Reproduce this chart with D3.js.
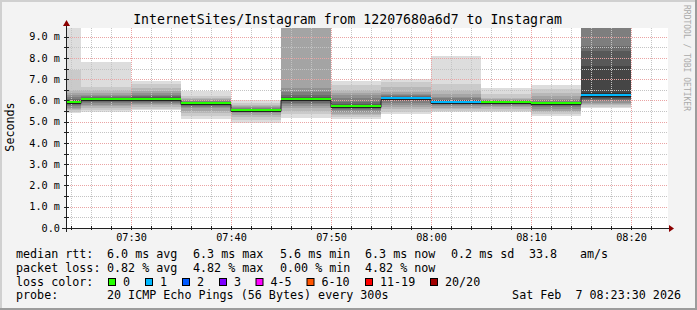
<!DOCTYPE html>
<html>
<head>
<meta charset="utf-8">
<script src="https://cdn.jsdelivr.net/npm/d3@7"></script>
<style>
    html, body { margin: 0; padding: 0; background: #f3f3f3; }
    svg { display: block; }
    text { font-family: "DejaVu Sans Mono", monospace; fill: #000; }
</style>
</head>
<body>
<div id="chart"></div>
<script>
(function () {
    "use strict";

    // 5 minute steps (end time of each step)
    const stepEnds = ["07:25", "07:30", "07:35", "07:40", "07:45", "07:50",
        "07:55", "08:00", "08:05", "08:10", "08:15", "08:20"];
    const medians = [5.95, 6.08, 6.08, 5.88, 5.57, 6.08, 5.75, 6.13, 5.94, 5.94, 5.89, 6.27];
    const lostPings = [0, 0, 0, 0, 0, 0, 0, 1, 1, 0, 0, 1];

    // sorted ping times (ms) of the 20 pings of each step
    const pings = [
        [5.40, 5.48, 5.55, 5.60, 5.66, 5.72, 5.78, 5.84, 5.90, 5.94, 5.96, 5.99, 6.03, 6.08, 6.15, 6.25, 6.35, 6.49, 7.43, 9.60],
        [5.44, 5.55, 5.63, 5.73, 5.80, 5.87, 5.93, 5.98, 6.03, 6.07, 6.09, 6.10, 6.13, 6.16, 6.20, 6.25, 6.34, 6.49, 6.65, 7.82],
        [5.55, 5.62, 5.70, 5.78, 5.85, 5.90, 5.95, 5.99, 6.03, 6.07, 6.09, 6.11, 6.15, 6.20, 6.27, 6.35, 6.45, 6.57, 6.76, 6.91],
        [5.11, 5.25, 5.40, 5.52, 5.63, 5.70, 5.75, 5.80, 5.84, 5.87, 5.89, 5.90, 5.92, 5.94, 5.97, 6.00, 6.05, 6.12, 6.21, 6.46],
        [4.95, 5.08, 5.22, 5.32, 5.40, 5.46, 5.50, 5.53, 5.55, 5.565, 5.57, 5.575, 5.58, 5.60, 5.63, 5.67, 5.72, 5.78, 5.87, 6.02],
        [5.16, 5.35, 5.50, 5.65, 5.75, 5.83, 5.90, 5.96, 6.02, 6.07, 6.09, 6.12, 6.18, 6.28, 6.40, 6.57, 9.60, 9.60, 9.60, 9.60],
        [5.13, 5.22, 5.30, 5.38, 5.46, 5.53, 5.60, 5.66, 5.70, 5.74, 5.76, 5.79, 5.85, 5.95, 6.10, 6.26, 6.35, 6.49, 6.73, 6.91],
        [5.35, 5.47, 5.58, 5.68, 5.80, 5.90, 5.98, 6.03, 6.08, 6.11, 6.13, 6.15, 6.17, 6.20, 6.25, 6.32, 6.41, 6.65, 6.85, 7.01],
        [5.44, 5.52, 5.59, 5.66, 5.72, 5.77, 5.82, 5.86, 5.90, 5.93, 5.95, 5.97, 6.00, 6.04, 6.10, 6.18, 6.30, 6.49, 6.76, 8.09],
        [5.44, 5.52, 5.60, 5.67, 5.74, 5.80, 5.85, 5.89, 5.92, 5.935, 5.945, 5.95, 5.96, 5.98, 6.00, 6.02, 6.06, 6.13, 6.30, 6.57],
        [5.28, 5.36, 5.44, 5.52, 5.60, 5.68, 5.76, 5.82, 5.86, 5.88, 5.89, 5.90, 5.92, 5.95, 6.00, 6.07, 6.20, 6.34, 6.54, 6.73],
        [5.63, 5.70, 5.77, 5.84, 5.90, 5.96, 6.02, 6.08, 6.14, 6.22, 6.34, 7.63, 8.33, 8.57, 9.60, 9.60, 9.60, 9.60, 9.60, 9.60]
    ];

    const yTicks = [0, 1, 2, 3, 4, 5, 6, 7, 8, 9];
    const xTickLabels = ["07:30", "07:40", "07:50", "08:00", "08:10", "08:20"];
    const lossLabels = ["0", "1", "2", "3", "4-5", "6-10", "11-19", "20/20"];
    const lossLimits = [0, 1, 2, 3, 5, 10, 19, 20];
    const lossPalette = ["#26ff00", "#00b8ff", "#0059ff", "#7e00ff", "#ff00ff", "#ff5500", "#ff0000", "#a10000"];

    const medianStats = ["6.0 ms avg", "6.3 ms max", "5.6 ms min", "6.3 ms now", "0.2 ms sd", "33.8", "am/s"];
    const lossStats = ["0.82 % avg", "4.82 % max", "0.00 % min", "4.82 % now"];

    const width = 697;
    const height = 310;
    const parseHM = d3.timeParse("%H:%M:%S");
    const tStart = parseHM("07:23:30");
    const tEnd = parseHM("08:23:30");
    const stepMs = 5 * 60 * 1000;

    const x = d3.scaleTime().domain([tStart, tEnd]).range([66, 666]);
    const y = d3.scaleLinear().domain([0, 9.41]).range([228, 28]);
    const px = (v) => Math.round(v) + 0.5;

    const svg = d3.select("#chart").append("svg")
        .attr("width", width)
        .attr("height", height);

    // frame
    svg.append("rect").attr("width", width).attr("height", height).attr("fill", "#f3f3f3");
    svg.append("path").attr("d", `M0,${height} V0 H${width}`).attr("fill", "none")
        .attr("stroke", "#d0d0d0").attr("stroke-width", 4);
    svg.append("path").attr("d", `M0,${height} H${width} V0`).attr("fill", "none")
        .attr("stroke", "#9c9c9c").attr("stroke-width", 4);

    // canvas
    svg.append("rect").attr("x", 66).attr("y", 28).attr("width", 602).attr("height", 200).attr("fill", "#fff");

    svg.append("clipPath").attr("id", "plot-clip")
        .append("rect").attr("x", 66).attr("y", 28).attr("width", 602).attr("height", 200);

    const steps = stepEnds.map((s, i) => {
        const end = parseHM(s + ":00");
        return {
            start: new Date(Math.max(end - stepMs, tStart)),
            end: end,
            median: medians[i],
            lost: lostPings[i],
            pings: pings[i]
        };
    });

    // smoke
    const smoke = svg.append("g").attr("clip-path", "url(#plot-clip)");
    const half = 10;
    d3.range(half).forEach((j) => {
        const g = Math.floor(190 / half * (half - (j + 1))) + 50;
        const col = d3.rgb(g, g, g).formatHex();
        smoke.selectAll(null)
            .data(steps)
            .join("rect")
            .attr("x", (d) => Math.round(x(d.start)))
            .attr("width", (d) => Math.round(x(d.end)) - Math.round(x(d.start)))
            .attr("y", (d) => Math.round(y(d.pings[19 - j])))
            .attr("height", (d) => Math.round(y(d.pings[j])) - Math.round(y(d.pings[19 - j])))
            .attr("fill", col);
    });

    // grid
    const grid = svg.append("g").attr("fill", "none").attr("stroke-dasharray", "1,1");
    const minorY = d3.range(0.5, 9.41, 0.5).filter((v) => Math.abs(v - Math.round(v)) > 0.01);
    grid.selectAll(".hmin").data(minorY).join("line")
        .attr("x1", 66).attr("x2", 668)
        .attr("y1", (d) => px(y(d))).attr("y2", (d) => px(y(d)))
        .attr("stroke", "#c4c4c4");
    const minorX = d3.timeMinute.every(2).range(tStart, tEnd).filter((d) => d.getMinutes() % 10 !== 0);
    grid.selectAll(".vmin").data(minorX).join("line")
        .attr("y1", 28).attr("y2", 228)
        .attr("x1", (d) => px(x(d))).attr("x2", (d) => px(x(d)))
        .attr("stroke", "#c4c4c4");
    grid.selectAll(".hmaj").data(yTicks.slice(1)).join("line")
        .attr("x1", 66).attr("x2", 668)
        .attr("y1", (d) => px(y(d))).attr("y2", (d) => px(y(d)))
        .attr("stroke", "#eaa4a4");
    const majorX = xTickLabels.map((s) => parseHM(s + ":00"));
    grid.selectAll(".vmaj").data(majorX).join("line")
        .attr("y1", 28).attr("y2", 228)
        .attr("x1", (d) => px(x(d))).attr("x2", (d) => px(x(d)))
        .attr("stroke", "#eaa4a4");

    // median: dark step line, then loss coloured segments
    const medPts = [];
    steps.forEach((d) => {
        medPts.push([Math.round(x(d.start)), px(y(d.median)) + 1]);
        medPts.push([Math.round(x(d.end)), px(y(d.median)) + 1]);
    });
    svg.append("path")
        .attr("d", d3.line()(medPts))
        .attr("fill", "none")
        .attr("stroke", "#202020")
        .attr("stroke-width", 1);

    const lossColor = (n) => lossPalette[lossLimits.findIndex((l) => n <= l)];
    svg.append("g").selectAll("line").data(steps).join("line")
        .attr("x1", (d) => Math.round(x(d.start)))
        .attr("x2", (d) => Math.round(x(d.end)))
        .attr("y1", (d) => Math.round(y(d.median)))
        .attr("y2", (d) => Math.round(y(d.median)))
        .attr("stroke", (d) => lossColor(d.lost))
        .attr("stroke-width", 2);

    // axes
    const axes = svg.append("g").attr("stroke", "#202020").attr("fill", "none");
    axes.append("line").attr("x1", 62).attr("x2", 671).attr("y1", 228.5).attr("y2", 228.5);
    axes.append("line").attr("x1", 66.5).attr("x2", 66.5).attr("y1", 232).attr("y2", 24);
    axes.selectAll(".yt").data(minorY.concat(yTicks.slice(1))).join("line")
        .attr("x1", 64).attr("x2", 69)
        .attr("y1", (d) => px(y(d))).attr("y2", (d) => px(y(d)));
    axes.selectAll(".xt").data(minorX.concat(majorX)).join("line")
        .attr("y1", 226).attr("y2", 230)
        .attr("x1", (d) => px(x(d))).attr("x2", (d) => px(x(d)));
    svg.append("path").attr("d", "M669,225 L674,228.5 L669,232 Z").attr("fill", "#8b0000");
    svg.append("path").attr("d", "M63,26 L66.5,20 L70,26 Z").attr("fill", "#8b0000");

    // tick labels
    svg.append("g").selectAll("text").data(yTicks).join("text")
        .attr("x", 60)
        .attr("y", (d) => y(d) + 3.7)
        .attr("text-anchor", "end")
        .attr("font-size", "10.2px")
        .text((d) => d === 0 ? "0.0" : d3.format(".1f")(d) + " m");
    svg.append("g").selectAll("text").data(majorX).join("text")
        .attr("x", (d) => px(x(d)))
        .attr("y", 241)
        .attr("text-anchor", "middle")
        .attr("font-size", "10.2px")
        .text(d3.timeFormat("%H:%M"));

    svg.append("text")
        .attr("transform", "translate(14,127) rotate(-90)")
        .attr("text-anchor", "middle")
        .attr("font-size", "11.7px")
        .text("Seconds");

    svg.append("text")
        .attr("x", 347.5).attr("y", 23.5)
        .attr("text-anchor", "middle")
        .attr("font-size", "13.2px")
        .text("InternetSites/Instagram from 12207680a6d7 to Instagram");

    svg.append("text")
        .attr("transform", "translate(684,5) rotate(90)")
        .attr("font-size", "8px")
        .style("fill", "#aaaaaa")
        .text("RRDTOOL / TOBI OETIKER");

    // legend
    const leg = svg.append("g").attr("font-size", "11.7px");
    const rows = [258.3, 272, 285.7, 299.3];
    const statX = [107, 193, 280, 365, 451, 529, 580];
    leg.append("text").attr("x", 16).attr("y", rows[0]).text("median rtt:");
    leg.selectAll(".ms").data(medianStats).join("text")
        .attr("x", (d, i) => statX[i]).attr("y", rows[0]).text((d) => d);
    leg.append("text").attr("x", 16).attr("y", rows[1]).text("packet loss:");
    leg.selectAll(".ls").data(lossStats).join("text")
        .attr("x", (d, i) => statX[i]).attr("y", rows[1]).text((d) => d);

    leg.append("text").attr("x", 16).attr("y", rows[2]).text("loss color:");
    const boxX = [108.5, 145.5, 182.5, 219.5, 256, 307, 365.5, 430.5];
    const sw = leg.selectAll(".sw").data(lossLabels).join("g");
    sw.append("rect")
        .attr("x", (d, i) => boxX[i]).attr("y", 278.5)
        .attr("width", 7).attr("height", 7)
        .attr("fill", (d, i) => lossPalette[i])
        .attr("stroke", "#000").attr("stroke-width", 1);
    sw.append("text")
        .attr("x", (d, i) => boxX[i] + 14.5).attr("y", rows[2])
        .text((d) => d);

    leg.append("text").attr("x", 16).attr("y", rows[3]).text("probe:");
    leg.append("text").attr("x", 107).attr("y", rows[3]).text("20 ICMP Echo Pings (56 Bytes) every 300s");
    leg.append("text").attr("x", 681).attr("y", rows[3]).attr("text-anchor", "end")
        .text("Sat Feb \u00a07 08:23:30 2026");
}());
</script>
</body>
</html>
